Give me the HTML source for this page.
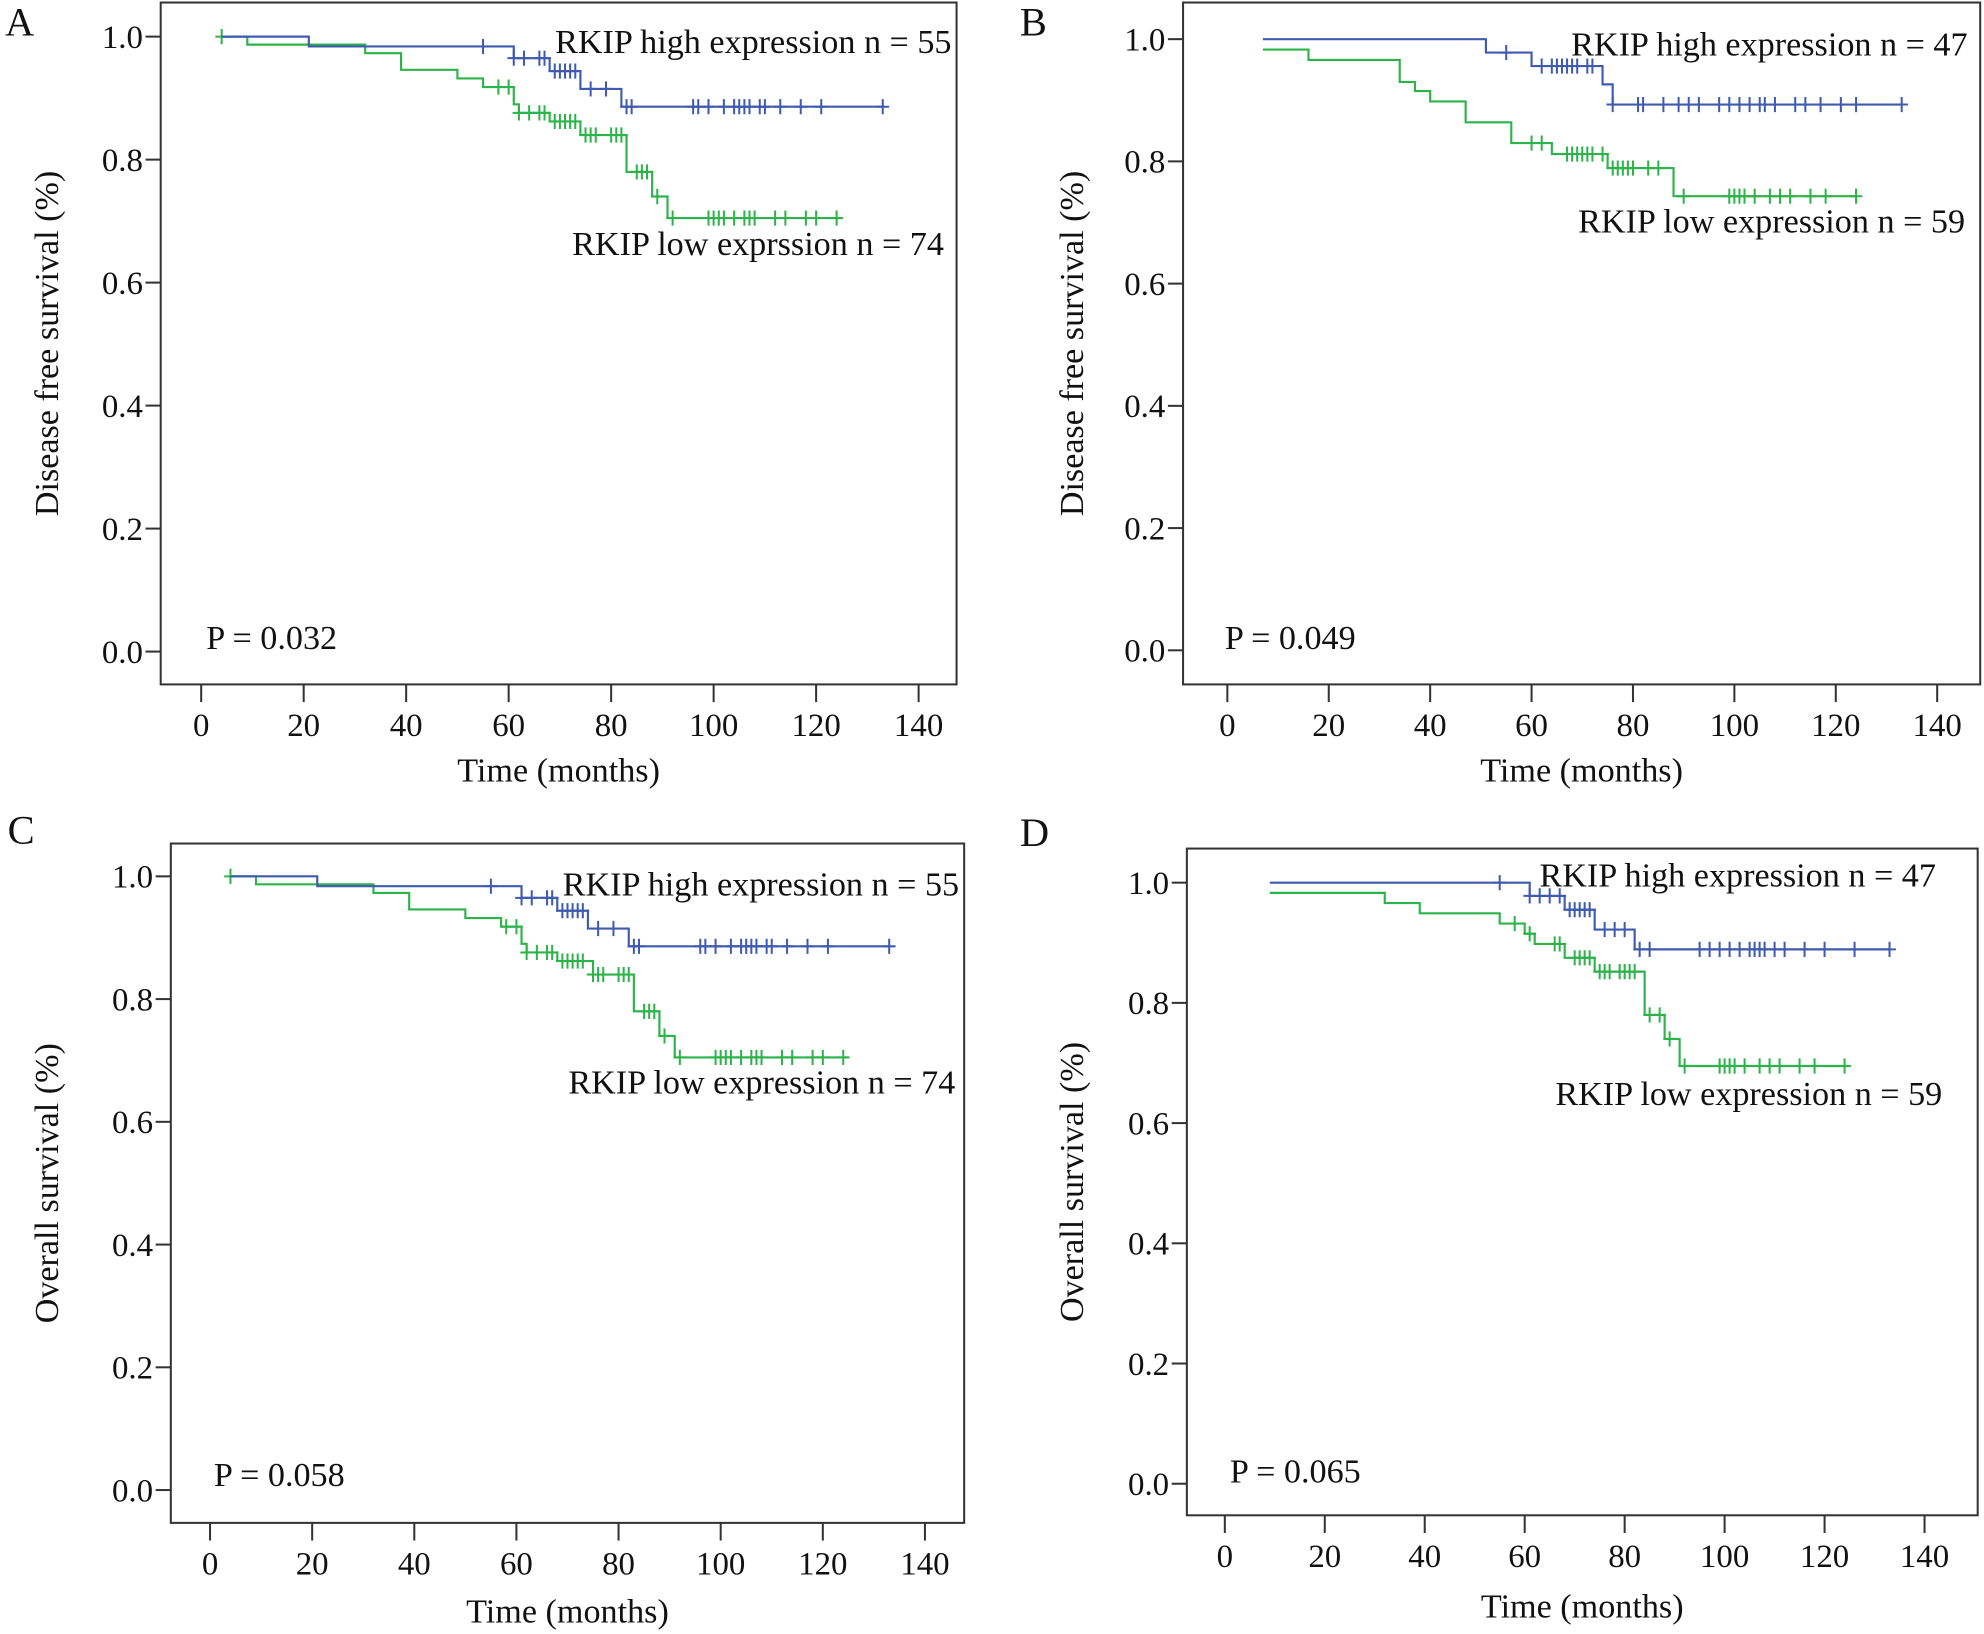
<!DOCTYPE html>
<html><head><meta charset="utf-8"><style>
html,body{margin:0;padding:0;background:#fff}
svg{display:block}
text{font-family:"Liberation Serif",serif;fill:#111}
</style></head><body>
<svg id="fig" width="1984" height="1634" viewBox="0 0 1568 1294" preserveAspectRatio="none" xmlns="http://www.w3.org/2000/svg"></svg>
<script>
const xTicks=[0,20,40,60,80,100,120,140];
const yTicks=[0.0,0.2,0.4,0.6,0.8,1.0];
// Panel A
const aHighT=[4,21,61,68,74,82,133];
const aHighS=[1.0,0.984,0.965,0.944,0.915,0.886,0.886];
const aHighC=[55,61,63,66,67,69,70,71,72,73,76,79,83,84,96,97,99,102,104,105,106,107,109,110,113,117,121,133];
const aLowT=[4,9,32,39,50,55,61,62,68,74,83,88,91,125];
const aLowS=[1.0,0.987,0.973,0.946,0.932,0.918,0.89,0.876,0.862,0.84,0.78,0.74,0.705,0.705];
const aLowC=[4,58,60,62,64,66,67,69,70,71,72,73,75,76,77,80,81,82,85,86,87,89,92,99,100,101,102,104,106,107,108,112,114,118,120,124];
// Panel B
const bHighT=[7,51,60,74,76,133];
const bHighS=[1.0,0.978,0.956,0.926,0.893,0.893];
const bHighC=[55,62,64,65,66,67,68,69,71,72,76,81,82,86,89,91,93,97,99,101,103,105,106,108,112,114,117,121,124,133];
const bLowT=[7,16,34,37,40,47,56,64,75,88,124];
const bLowS=[0.983,0.966,0.93,0.915,0.898,0.864,0.83,0.812,0.789,0.743,0.743];
const bLowC=[60,62,67,68,69,70,71,72,74,76,77,78,79,80,83,85,90,99,100,101,102,104,107,109,111,115,118,124];
// Panel C
const cHighT=[4,21,61,68,74,82,133];
const cHighS=[1.0,0.984,0.965,0.944,0.915,0.886,0.886];
const cHighC=[55,61,63,66,67,69,70,71,72,73,76,79,83,84,96,97,99,102,104,105,106,107,109,110,113,117,121,133];
const cLowT=[4,9,32,39,50,57,61,62,68,75,83,88,91,125];
const cLowS=[1.0,0.987,0.973,0.946,0.932,0.918,0.89,0.876,0.862,0.84,0.78,0.74,0.705,0.705];
const cLowC=[4,58,60,62,64,66,67,69,70,71,72,73,75,76,77,80,81,82,85,86,87,89,92,99,100,101,102,104,106,107,108,112,114,118,120,124];
// Panel D
const dHighT=[9,61,68,74,82,133];
const dHighS=[1.0,0.978,0.955,0.922,0.889,0.889];
const dHighC=[55,61,63,65,67,69,70,71,72,73,76,78,80,83,85,95,97,99,101,103,105,106,107,108,110,112,116,120,126,133];
const dLowT=[9,32,39,55,60,62,68,74,84,88,91,125];
const dLowS=[0.983,0.966,0.949,0.932,0.915,0.898,0.875,0.852,0.78,0.74,0.695,0.695];
const dLowC=[58,61,66,67,70,71,72,73,75,76,77,79,80,81,82,85,87,89,92,99,100,101,102,104,107,109,111,115,118,124];

const panels=[
 {id:'a',letter:'A',lx:4,ly:28,box:[127,2,756,542],x0:159,x140:726,y0:516,y1:29,ytitle:'Disease free survival (%)',ytx:46,
  hi:[aHighT,aHighS,aHighC],lo:[aLowT,aLowS,aLowC],hiLab:'RKIP high expression n = 55',hiX:752,hiY:42,loLab:'RKIP low exprssion n = 74',loX:746,loY:202,p:'P = 0.032',px:163,py:514,xtY:583,xtt:619},
 {id:'b',letter:'B',lx:806,ly:28,box:[935,2,1565,542],x0:970,x140:1531,y0:515,y1:31,ytitle:'Disease free survival (%)',ytx:856,
  hi:[bHighT,bHighS,bHighC],lo:[bLowT,bLowS,bLowC],hiLab:'RKIP high expression n = 47',hiX:1555,hiY:44,loLab:'RKIP low expression n = 59',loX:1553,loY:184,p:'P = 0.049',px:968,py:514,xtY:583,xtt:619},
 {id:'c',letter:'C',lx:6,ly:668,box:[135,668,762,1206],x0:166,x140:731,y0:1180,y1:694,ytitle:'Overall survival (%)',ytx:46,
  hi:[cHighT,cHighS,cHighC],lo:[cLowT,cLowS,cLowC],hiLab:'RKIP high expression n = 55',hiX:758,hiY:709,loLab:'RKIP low expression n = 74',loX:755,loY:866,p:'P = 0.058',px:169,py:1177,xtY:1247,xtt:1285},
 {id:'d',letter:'D',lx:806,ly:670,box:[938,672,1563,1200],x0:968,x140:1521,y0:1175,y1:699,ytitle:'Overall survival (%)',ytx:856,
  hi:[dHighT,dHighS,dHighC],lo:[dLowT,dLowS,dLowC],hiLab:'RKIP high expression n = 47',hiX:1530,hiY:702,loLab:'RKIP low expression n = 59',loX:1535,loY:875,p:'P = 0.065',px:972,py:1174,xtY:1241,xtt:1281}
];
const NS='http://www.w3.org/2000/svg';
const svg=document.getElementById('fig');
function mk(tag,attrs,parent){const e=document.createElementNS(NS,tag);for(const k in attrs)e.setAttribute(k,attrs[k]);parent.appendChild(e);return e;}
panels.forEach(P=>{
 const g=mk('g',{},svg);
 
 
 const sx=t=>P.x0+(P.x140-P.x0)*t/140;
 const sy=v=>P.y0+(P.y1-P.y0)*v;
 const L=mk('text',{x:P.lx,y:P.ly,'font-size':32},g);L.textContent=P.letter;
 
 
 const [bl,bt,br,bb]=P.box;
 const box=mk('rect',{x:bl,y:bt,width:br-bl,height:bb-bt,fill:'none',stroke:'#333','stroke-width':1.6},g);
 
 
 yTicks.forEach(v=>{
  mk('line',{x1:bl-12,x2:bl,y1:sy(v),y2:sy(v),stroke:'#333','stroke-width':1.6},g);
  const t=mk('text',{x:bl-14,y:sy(v)+9,'font-size':26,'text-anchor':'end'},g);t.textContent=v.toFixed(1);
  
  
 });
 xTicks.forEach(v=>{
  mk('line',{x1:sx(v),x2:sx(v),y1:bb,y2:bb+14,stroke:'#333','stroke-width':1.6},g);
  const t=mk('text',{x:sx(v),y:P.xtY,'font-size':26,'text-anchor':'middle'},g);t.textContent=v;
  
  
 });
 const xt=mk('text',{x:(bl+br)/2,y:P.xtt,'font-size':27,'text-anchor':'middle'},g);xt.textContent='Time (months)';
 
 
 const cy=(bt+bb)/2;
 const yt=mk('text',{x:P.ytx,y:cy,'font-size':27,'text-anchor':'middle',transform:`rotate(-90 ${P.ytx} ${cy})`},g);yt.textContent=P.ytitle;
 
 
 [[P.lo,'#2db34a','low'],[P.hi,'#3f5bb0','high']].forEach(([ser,col,nm])=>{
  const [T,S,C]=ser;
  let d=`M${sx(T[0])},${sy(S[0])}`;
  for(let i=1;i<T.length;i++){d+=` H${sx(T[i])} V${sy(S[i])}`;}
  const path=mk('path',{d:d,fill:'none',stroke:col,'stroke-width':1.7},g);
  
  
  const lvl=t=>{let s=S[0];for(let i=0;i<T.length;i++){if(T[i]<=t)s=S[i];}return s;};
  C.forEach(t=>{
   const x=sx(t),y=sy(lvl(t));
   const c=mk('path',{d:`M${x-5},${y} H${x+5} M${x},${y-6} V${y+6}`,stroke:col,'stroke-width':1.6},g);
   
   
  });
 });
 const h=mk('text',{x:P.hiX,y:P.hiY,'font-size':27,'text-anchor':'end'},g);h.textContent=P.hiLab;
 
 
 const l=mk('text',{x:P.loX,y:P.loY,'font-size':27,'text-anchor':'end'},g);l.textContent=P.loLab;
 
 
 const p=mk('text',{x:P.px,y:P.py,'font-size':27},g);p.textContent=P.p;
 
 
});
</script>
</body></html>
